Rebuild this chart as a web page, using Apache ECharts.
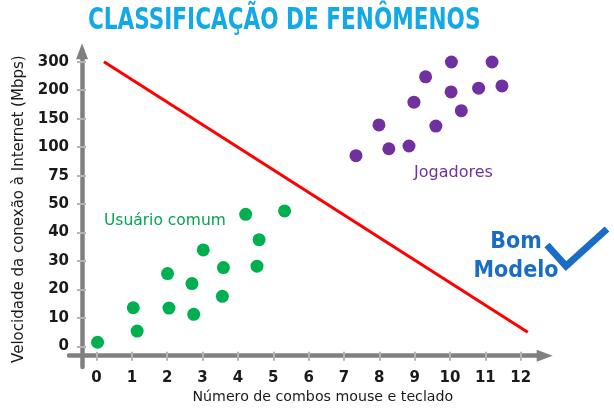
<!DOCTYPE html>
<html>
<head>
<meta charset="utf-8">
<script src="https://cdn.jsdelivr.net/npm/echarts@6/dist/echarts.min.js"></script>
<style>
html,body{margin:0;padding:0;background:#fff;}
#chart{width:614px;height:414px;}
</style>
</head>
<body>
<div id="chart"></div>
<script>
// ---- data ----
const titleText = 'CLASSIFICAÇÃO DE FENÔMENOS';
const xAxisName = 'Número de combos mouse e teclado';
const yAxisName = 'Velocidade da conexão à Internet (Mbps)';
const xTickValues = [0, 1, 2, 3, 4, 5, 6, 7, 8, 9, 10, 11, 12];
const yTickValues = [0, 10, 20, 30, 40, 50, 75, 100, 150, 200, 300];
const yTickLabels = ['0', '10', '20', '30', '40', '50', '75', '100', '150', '200', '300'];

const greenName = 'Usuário comum';
const greenX = [0.03, 1.04, 1.15, 2.01, 2.05, 2.70, 2.75, 3.02, 3.59, 3.56, 4.22, 4.60, 4.54, 5.32];
const greenY = [1.5, 13.6, 5.4, 25.6, 13.5, 22.1, 11.3, 33.9, 27.7, 17.6, 46.4, 37.5, 28.2, 47.6];

const purpleName = 'Jogadores';
const purpleX = [7.34, 7.99, 8.27, 8.84, 8.98, 9.31, 9.60, 10.03, 10.04, 10.32, 10.81, 11.19, 11.47];
const purpleY = [92.5, 139, 98.6, 102, 179, 247, 137, 197, 299, 164, 207, 299, 215];

const lineX = [0.21, 12.2];
const lineY = [300, 5];

const annotationText = ['Bom', 'Modelo'];

// piecewise mapping of Mbps onto the evenly spaced (non-linear) tick positions
function toPos(v) {
  for (let i = 0; i < yTickValues.length - 1; i++) {
    const a = yTickValues[i], b = yTickValues[i + 1];
    if (v <= b || i === yTickValues.length - 2) return i + (v - a) / (b - a);
  }
}
const pts = (xs, ys) => xs.map((x, i) => [x, toPos(ys[i])]);
const yPosTicks = yTickValues.map((_, i) => i);

const FONT = 'DejaVu Sans';
const axisColor = '#808080';
const tickColor = '#b4b4b4';

const xBase = {
  type: 'value', min: -0.778, max: 12.679, position: 'bottom', offset: -11.3,
  splitLine: {show: false}
};
const yBase = {
  type: 'value', min: -0.72, max: 10.365, position: 'left', offset: -13,
  splitLine: {show: false}
};

const chart = echarts.init(document.getElementById('chart'), null, {renderer: 'canvas'});
chart.setOption({
  animation: false,
  backgroundColor: '#ffffff',
  grid: {left: 69, right: 69.3, top: 51.3, bottom: 47, containLabel: false},
  xAxis: [
    Object.assign({}, xBase, {
      name: xAxisName, nameLocation: 'middle', nameGap: 35, nameMoveOverlap: false,
      nameTextStyle: {fontFamily: FONT, fontSize: 14.2, color: '#1a1a1a', padding: [0, 0, 0, 32]},
      axisLine: {show: true, onZero: false, lineStyle: {color: axisColor, width: 4.5},
        symbol: ['none', 'triangle'], symbolSize: [12, 16]},
      axisTick: {show: true, length: 5, inside: false, lineStyle: {color: tickColor, width: 2},
        customValues: xTickValues},
      axisLabel: {show: true, margin: 15, fontFamily: FONT, fontSize: 15, fontWeight: 'bold',
        color: '#1a1a1a', customValues: xTickValues}
    }),
    Object.assign({}, xBase, {
      axisLine: {show: false, onZero: false},
      axisTick: {show: true, length: 4, inside: true, lineStyle: {color: tickColor, width: 2},
        customValues: xTickValues},
      axisLabel: {show: false}
    })
  ],
  yAxis: [
    Object.assign({}, yBase, {
      name: yAxisName, nameLocation: 'middle', nameGap: 55, nameRotate: 90, nameMoveOverlap: false,
      nameTextStyle: {fontFamily: FONT, fontSize: 15, color: '#1a1a1a'},
      axisLine: {show: true, onZero: false, lineStyle: {color: axisColor, width: 4.5},
        symbol: ['none', 'triangle'], symbolSize: [12, 16]},
      axisTick: {show: true, length: 5, inside: false, lineStyle: {color: tickColor, width: 2},
        customValues: yPosTicks},
      axisLabel: {show: true, margin: 13, fontFamily: FONT, fontSize: 15, fontWeight: 'bold',
        color: '#1a1a1a', customValues: yPosTicks,
        formatter: function (v) { return yTickLabels[Math.round(v)]; }}
    }),
    Object.assign({}, yBase, {
      axisLine: {show: false, onZero: false},
      axisTick: {show: true, length: 4, inside: true, lineStyle: {color: tickColor, width: 2},
        customValues: yPosTicks},
      axisLabel: {show: false}
    })
  ],
  series: [
    {
      name: 'Modelo', type: 'line', xAxisIndex: 0, yAxisIndex: 0,
      data: pts(lineX, lineY), showSymbol: false, symbol: 'none',
      lineStyle: {color: '#ff0000', width: 3}, z: 3
    },
    {
      name: greenName, type: 'scatter', xAxisIndex: 0, yAxisIndex: 0,
      data: pts(greenX, greenY), symbolSize: 13,
      itemStyle: {color: '#00b050', opacity: 1}, z: 4
    },
    {
      name: purpleName, type: 'scatter', xAxisIndex: 0, yAxisIndex: 0,
      data: pts(purpleX, purpleY), symbolSize: 13,
      itemStyle: {color: '#7030a0', opacity: 1}, z: 4
    }
  ],
  graphic: [
    {
      type: 'text', x: 88, y: 21.5, scaleX: 0.8, z: 10,
      style: {text: titleText, x: 0, y: 0, fill: '#12a9e8',
        font: 'bold 30px "DejaVu Sans Condensed"', textAlign: 'left', textVerticalAlign: 'middle'}
    },
    {
      type: 'text', x: 104, y: 221, z: 10,
      style: {text: greenName, fill: '#00a651', font: '15.5px "DejaVu Sans"',
        textAlign: 'left', textVerticalAlign: 'middle'}
    },
    {
      type: 'text', x: 414, y: 173, z: 10,
      style: {text: purpleName, fill: '#7030a0', font: '16px "DejaVu Sans"',
        textAlign: 'left', textVerticalAlign: 'middle'}
    },
    {
      type: 'text', x: 516, y: 242, z: 10,
      style: {text: annotationText[0], fill: '#1a6dc6', font: 'bold 23px "DejaVu Sans Condensed"',
        textAlign: 'center', textVerticalAlign: 'middle'}
    },
    {
      type: 'text', x: 516, y: 271, z: 10,
      style: {text: annotationText[1], fill: '#1a6dc6', font: 'bold 23px "DejaVu Sans Condensed"',
        textAlign: 'center', textVerticalAlign: 'middle'}
    },
    {
      type: 'polyline', z: 10,
      shape: {points: [[547, 245], [566, 266], [607, 229]]},
      style: {stroke: '#1a6dc6', lineWidth: 7, fill: null, lineJoin: 'miter'}
    }
  ]
});
</script>
</body>
</html>
